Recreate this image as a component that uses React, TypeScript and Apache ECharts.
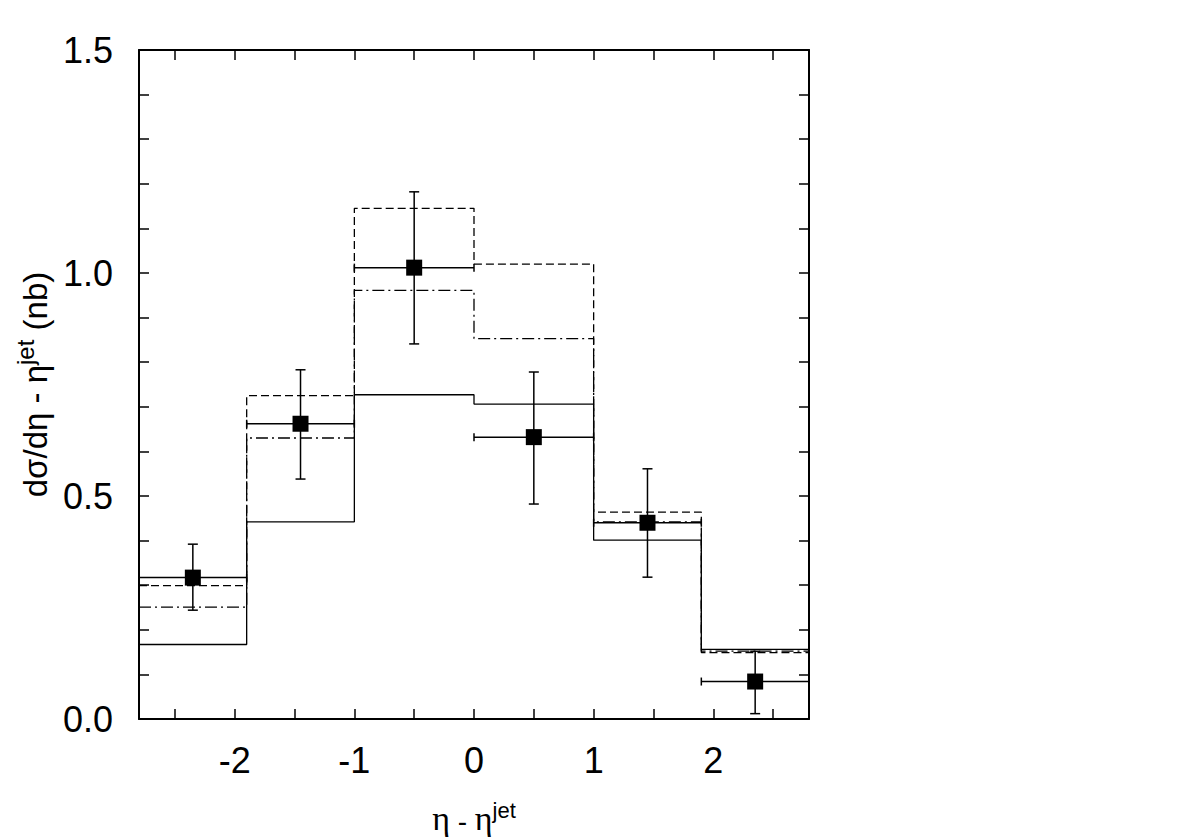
import React, { useEffect, useRef } from "react";
import * as echarts from "echarts";

// Bin edges of the histograms (eta - eta_jet)
const binEdges = [-2.8, -1.9, -1.0, 0.0, 1.0, 1.9, 2.8];

// Theory histograms (nb)
const solidValues = [0.167, 0.442, 0.727, 0.706, 0.401, 0.156];
const dashedValues = [0.299, 0.725, 1.145, 1.02, 0.464, 0.149];
const dashDotValues = [0.251, 0.63, 0.961, 0.853, 0.442, 0.152];

// Data points
const pointX = [-2.35, -1.45, -0.5, 0.5, 1.45, 2.35];
const pointY = [0.317, 0.662, 1.012, 0.632, 0.44, 0.084];
const errLow = [0.244, 0.538, 0.841, 0.482, 0.318, 0.012];
const errHigh = [0.392, 0.783, 1.182, 0.778, 0.561, 0.152];

// Axis ticks / labels
const xTickValues = [-2.5, -2, -1.5, -1, -0.5, 0, 0.5, 1, 1.5, 2, 2.5];
const xLabelValues = [-2, -1, 0, 1, 2];
const yTickValues = [0.1, 0.2, 0.3, 0.4, 0.5, 0.6, 0.7, 0.8, 0.9, 1.0, 1.1, 1.2, 1.3, 1.4];
const yLabelValues = [0, 0.5, 1.0, 1.5];

const SANS = "'Liberation Sans', Arial, Helvetica, sans-serif";
const SERIF = "'Liberation Serif', 'Times New Roman', serif";

function stepData(vals: number[]) {
  const d: number[][] = [];
  vals.forEach((v, i) => {
    d.push([binEdges[i], v]);
    d.push([binEdges[i + 1], v]);
  });
  return d;
}

export default function App() {
  const ref = useRef<HTMLDivElement>(null);

  useEffect(() => {
    if (!ref.current) return;
    const chart = echarts.init(ref.current, undefined, { renderer: "svg" });

    const pointData = pointX.map((x, i) => [
      x,
      pointY[i],
      errLow[i],
      errHigh[i],
      binEdges[i],
      binEdges[i + 1],
    ]);

    const axisLineStyle = { color: "#000", width: 2 };
    const tickStyle = { color: "#000", width: 1.5 };

    const histLine = (data: number[][], type: any) => ({
      type: "line",
      data,
      showSymbol: false,
      symbol: "none",
      silent: true,
      lineStyle: { color: "#000", width: 1.3, type },
      z: 2,
    });

    const option: any = {
      animation: false,
      backgroundColor: "#fff",
      grid: { left: 139, right: 390, top: 50, bottom: 121, containLabel: false },
      xAxis: [
        {
          type: "value",
          position: "bottom",
          min: -2.8,
          max: 2.8,
          axisLine: { show: true, onZero: false, lineStyle: axisLineStyle },
          axisTick: { show: true, inside: true, length: 10, customValues: xTickValues, lineStyle: tickStyle },
          axisLabel: {
            customValues: xLabelValues,
            fontSize: 36,
            fontFamily: SANS,
            color: "#000",
            margin: 23,
            formatter: (v: number) => String(v),
          },
          splitLine: { show: false },
          name: "{e|η}{a| - }{e|η}{b|jet}",
          nameLocation: "middle",
          nameGap: 80,
          nameTextStyle: {
            rich: {
              e: { fontFamily: SERIF, fontSize: 34, color: "#000", verticalAlign: "bottom" },
              a: { fontFamily: SANS, fontSize: 28, color: "#000", verticalAlign: "bottom" },
              b: { fontFamily: SANS, fontSize: 22, color: "#000", verticalAlign: "bottom", padding: [0, 0, 14, 0] },
            },
          },
        },
        {
          type: "value",
          position: "top",
          min: -2.8,
          max: 2.8,
          axisLine: { show: true, onZero: false, lineStyle: axisLineStyle },
          axisTick: { show: true, inside: true, length: 10, customValues: xTickValues, lineStyle: tickStyle },
          axisLabel: { show: false },
          splitLine: { show: false },
        },
      ],
      yAxis: [
        {
          type: "value",
          position: "left",
          min: 0,
          max: 1.5,
          axisLine: { show: true, onZero: false, lineStyle: axisLineStyle },
          axisTick: { show: true, inside: true, length: 10, customValues: yTickValues, lineStyle: tickStyle },
          axisLabel: {
            customValues: yLabelValues,
            fontSize: 36,
            fontFamily: SANS,
            color: "#000",
            margin: 26,
            formatter: (v: number) => v.toFixed(1),
          },
          splitLine: { show: false },
          name: "{a|dσ/dη - η}{b|jet}{a| (nb)}",
          nameLocation: "middle",
          nameGap: 84,
          nameRotate: 90,
          nameTextStyle: {
            rich: {
              a: { fontFamily: SANS, fontSize: 33, color: "#000", verticalAlign: "bottom" },
              b: { fontFamily: SANS, fontSize: 24, color: "#000", verticalAlign: "bottom", padding: [0, 0, 15, 0] },
            },
          },
        },
        {
          type: "value",
          position: "right",
          min: 0,
          max: 1.5,
          axisLine: { show: true, onZero: false, lineStyle: axisLineStyle },
          axisTick: { show: true, inside: true, length: 10, customValues: yTickValues, lineStyle: tickStyle },
          axisLabel: { show: false },
          splitLine: { show: false },
        },
      ],
      series: [
        histLine(stepData(solidValues), "solid"),
        histLine(stepData(dashedValues), [8, 4]),
        histLine(stepData(dashDotValues), [12, 4, 2, 4]),
        {
          type: "custom",
          data: pointData,
          encode: { x: 0, y: 1 },
          z: 5,
          renderItem: (params: any, api: any) => {
            const x = api.value(0);
            const y = api.value(1);
            const lo = api.value(2);
            const hi = api.value(3);
            const xl = api.value(4);
            const xh = api.value(5);
            const c = api.coord([x, y]);
            const pLo = api.coord([x, lo]);
            const pHi = api.coord([x, hi]);
            const pL = api.coord([xl, y]);
            const pR = api.coord([xh, y]);
            const st = { stroke: "#000", lineWidth: 1.5 };
            const capW = 5;
            const capH = 4;
            return {
              type: "group",
              children: [
                { type: "line", shape: { x1: pLo[0], y1: pLo[1], x2: pHi[0], y2: pHi[1] }, style: st },
                { type: "line", shape: { x1: pLo[0] - capW, y1: pLo[1], x2: pLo[0] + capW, y2: pLo[1] }, style: st },
                { type: "line", shape: { x1: pHi[0] - capW, y1: pHi[1], x2: pHi[0] + capW, y2: pHi[1] }, style: st },
                { type: "line", shape: { x1: pL[0], y1: pL[1], x2: pR[0], y2: pR[1] }, style: st },
                { type: "line", shape: { x1: pL[0], y1: pL[1] - capH, x2: pL[0], y2: pL[1] + capH }, style: st },
                { type: "line", shape: { x1: pR[0], y1: pR[1] - capH, x2: pR[0], y2: pR[1] + capH }, style: st },
                { type: "rect", shape: { x: c[0] - 8, y: c[1] - 8, width: 16, height: 16 }, style: { fill: "#000" } },
              ],
            };
          },
        },
      ],
    };

    chart.setOption(option);
    return () => chart.dispose();
  }, []);

  return (
    <div
      ref={ref}
      style={{ position: "fixed", left: 0, top: 0, width: 1199, height: 840, background: "#fff" }}
    />
  );
}
